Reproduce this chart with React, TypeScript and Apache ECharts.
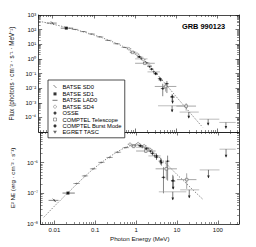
import { useEffect, useRef } from 'react';
import * as echarts from 'echarts';

const FONT = '"Liberation Sans", Arial, Helvetica, sans-serif';

// ---- axis ranges and tick labels ----
const energyRange = [0.0046, 330];
const fluxRange = [1e-5, 1e3];
const nufnuRange = [1e-8, 1e-5];
const energyTickExp = [-2, -1, 0, 1, 2];
const energyTickLabels = ['0.01', '0.1', '1', '10', '100'];
const fluxTickExp = [-4, -3, -2, -1, 0, 1, 2, 3];
const fluxTickLabels = ['10⁻⁴', '10⁻³', '10⁻²', '10⁻¹', '10⁰', '10¹', '10²', '10³'];
const nufnuTickExp = [-8, -7, -6];
const nufnuTickLabels = ['10⁻⁸', '10⁻⁷', '10⁻⁶'];
const minorSteps = [2, 3, 4, 5, 6, 7, 8, 9];

// ---- model curve ----
const modelEnergy = [0.0055, 0.01, 0.02, 0.04, 0.079, 0.158, 0.316, 0.5, 0.794, 1.0, 1.26, 1.78, 2.51, 3.98, 6.31, 10, 15.8, 25.1, 43.6];
const modelFlux = [343, 237, 150, 92, 53, 28, 13, 7.3, 3.7, 2.4, 1.5, 0.62, 0.23, 0.054, 0.0119, 0.00254, 5.7e-4, 1.24e-4, 2.07e-5];
const modelNufnu = [1.66e-8, 3.8e-8, 9.5e-8, 2.34e-7, 5.4e-7, 1.12e-6, 2.09e-6, 2.95e-6, 3.7e-6, 3.9e-6, 3.8e-6, 3.16e-6, 2.34e-6, 1.38e-6, 7.6e-7, 4.1e-7, 2.3e-7, 1.26e-7, 6.3e-8];

// ---- measurements ----
// [E, Elo, Ehi, flux, fluxLo, fluxHi, E2N, E2Nlo, E2Nhi, upperLimit]
const batseSD0 = [[0.01, 0.0072, 0.0126, 280, 255, 305, 5.9e-8, 5.4e-8, 6.4e-8, 0]];
const batseSD1 = [[0.0215, 0.0158, 0.0316, 126, 116, 136, 1.02e-7, 0.94e-7, 1.1e-7, 0]];
const batseLAD0 = [
  [0.035, 0.029, 0.042, 104, 96, 112, 2.09e-7, 1.93e-7, 2.25e-7, 0],
  [0.056, 0.047, 0.067, 73, 67, 79, 3.7e-7, 3.4e-7, 4.0e-7, 0],
  [0.089, 0.074, 0.107, 50, 46, 54, 6.3e-7, 5.8e-7, 6.8e-7, 0],
  [0.141, 0.118, 0.17, 32, 29.5, 34.5, 1.02e-6, 0.94e-6, 1.1e-6, 0],
  [0.224, 0.187, 0.27, 18.4, 17, 19.8, 1.48e-6, 1.37e-6, 1.6e-6, 0],
  [0.355, 0.296, 0.43, 10.8, 10, 11.6, 2.19e-6, 2.03e-6, 2.36e-6, 0],
  [0.562, 0.47, 0.67, 6.1, 5.6, 6.6, 3.09e-6, 2.85e-6, 3.33e-6, 0],
  [0.891, 0.74, 1.07, 2.9, 2.67, 3.13, 3.7e-6, 3.4e-6, 4.0e-6, 0],
  [1.32, 1.1, 1.58, 1.3, 1.2, 1.4, 3.6e-6, 3.3e-6, 3.9e-6, 0],
  [1.86, 1.55, 2.23, 0.54, 0.5, 0.58, 3.0e-6, 2.76e-6, 3.24e-6, 0],
];
const batseSD4 = [
  [0.708, 0.62, 0.81, 4.95, 4.5, 5.4, 3.98e-6, 3.6e-6, 4.4e-6, 0],
  [1.12, 0.98, 1.28, 2.07, 1.88, 2.28, 4.17e-6, 3.8e-6, 4.6e-6, 0],
  [1.58, 1.38, 1.82, 0.88, 0.8, 0.97, 3.55e-6, 3.2e-6, 3.9e-6, 0],
  [2.24, 1.95, 2.57, 0.327, 0.29, 0.37, 2.63e-6, 2.35e-6, 2.95e-6, 0],
];
const osse = [
  [1.26, 1.12, 1.41, 1.4, 1.25, 1.57, 3.55e-6, 3.17e-6, 3.98e-6, 0],
  [1.78, 1.58, 2.0, 0.556, 0.48, 0.64, 2.82e-6, 2.45e-6, 3.25e-6, 0],
  [2.51, 2.24, 2.82, 0.197, 0.165, 0.235, 2.0e-6, 1.68e-6, 2.38e-6, 0],
  [3.16, 2.82, 3.55, 0.0944, 0.076, 0.117, 1.51e-6, 1.22e-6, 1.87e-6, 0],
  [3.98, 3.55, 4.47, 0.0442, 0.034, 0.057, 1.12e-6, 0.87e-6, 1.45e-6, 0],
  [4.68, 4.2, 5.2, 0.0094, 0.0028, 0.02, 3.3e-7, 1.0e-7, 7.1e-7, 0],
  [7.9, 7.1, 8.9, 0.0026, 0.0014, 0.0039, 2.6e-7, 1.41e-7, 4.0e-7, 0],
];
const comptelTelescope = [
  [0.87, 0.75, 1.0, 2.79, 2.5, 3.1, 3.4e-6, 3.0e-6, 3.8e-6, 0],
  [1.73, 1.0, 3.0, 0.5, 0.44, 0.57, 2.4e-6, 2.1e-6, 2.75e-6, 0],
  [5.5, 3.0, 10, 0.013, 0.0058, 0.023, 6.3e-7, 2.8e-7, 1.12e-6, 0],
  [17.3, 10, 30, 5.9e-4, 2.9e-4, 9.3e-4, 2.8e-7, 1.4e-7, 4.5e-7, 0],
];
const comptelBurst = [
  [2.24, 2.0, 2.5, 0.3, 0.26, 0.34, 2.4e-6, 2.09e-6, 2.75e-6, 0],
  [3.16, 2.8, 3.5, 0.104, 0.086, 0.125, 1.66e-6, 1.38e-6, 2.0e-6, 0],
  [4.17, 3.7, 4.7, 0.036, 0.028, 0.045, 1.0e-6, 0.8e-6, 1.26e-6, 0],
  [5.9, 5.2, 6.6, 0.0202, 0.0046, 0.031, 1.12e-6, 2.6e-7, 1.7e-6, 0],
  [8.1, 7.2, 9.1, 0.00237, 0.00237, 0.0035, 2.5e-7, 2.5e-7, 3.6e-7, 1],
];
const egretTasc = [
  [1.41, 1.0, 2.0, 1.0, 0.92, 1.1, 3.16e-6, 2.9e-6, 3.5e-6, 0],
  [2.83, 2.0, 4.0, 0.129, 0.113, 0.148, 1.66e-6, 1.45e-6, 1.9e-6, 0],
  [7.9, 3.6, 17, 6.2e-4, 6.2e-4, 6.2e-4, 1.12e-7, 1.12e-7, 1.12e-7, 1],
  [20, 12, 35, 2.3e-4, 2.3e-4, 2.3e-4, 1.3e-7, 1.3e-7, 1.3e-7, 1],
  [59, 36, 110, 7.5e-5, 7.5e-5, 7.5e-5, 5.8e-7, 5.8e-7, 5.8e-7, 1],
  [159, 110, 275, 4.5e-5, 4.5e-5, 4.5e-5, 2.75e-6, 2.75e-6, 2.75e-6, 1],
];

// ---- styling per instrument ----
const SQUARE = 'path://M0,0H10V10H0Z';
const DASH = 'path://M0,0H10V2H0Z';
const DIAG = 'path://M0,0L10,10';
const VTRI = 'path://M0,0H10L5,8Z';
const instruments: any[] = [
  { name: 'BATSE SD0', pts: batseSD0, bar: '#444', symbol: DIAG, size: 3.5, item: { color: 'none', borderColor: '#222', borderWidth: 0.7 }, icon: DIAG },
  { name: 'BATSE SD1', pts: batseSD1, bar: '#333', symbol: 'rect', size: 3, item: { color: '#000' }, icon: SQUARE },
  { name: 'BATSE LAD0', pts: batseLAD0, bar: '#888', symbol: 'rect', size: [3.5, 0.7], item: { color: '#555' }, icon: DASH },
  { name: 'BATSE SD4', pts: batseSD4, bar: '#888', symbol: 'circle', size: 2.6, item: { color: '#fff', borderColor: '#666', borderWidth: 0.6 }, icon: 'circle' },
  { name: 'OSSE', pts: osse, bar: '#444', symbol: 'circle', size: 2, item: { color: '#111' }, icon: 'circle' },
  { name: 'COMPTEL Telescope', pts: comptelTelescope, bar: '#777', symbol: 'rect', size: 2.6, item: { color: '#fff', borderColor: '#444', borderWidth: 0.6 }, icon: SQUARE },
  { name: 'COMPTEL Burst Mode', pts: comptelBurst, bar: '#444', symbol: 'circle', size: 1.5, item: { color: '#000' }, icon: 'circle' },
  { name: 'EGRET TASC', pts: egretTasc, bar: '#999', symbol: VTRI, size: [2.6, 2], item: { color: '#444' }, icon: VTRI },
];

const LINE = '#1a1a1a';

function minorLogValues(range: number[]) {
  const out: number[] = [];
  const d0 = Math.floor(Math.log10(range[0]));
  const d1 = Math.ceil(Math.log10(range[1]));
  for (let d = d0; d <= d1; d++) {
    for (const m of minorSteps) {
      const v = m * Math.pow(10, d);
      if (v >= range[0] && v <= range[1]) out.push(Math.log10(v));
    }
  }
  return out;
}

function decadeFormatter(exps: number[], labels: string[]) {
  return (v: number) => {
    const lg = Math.log10(v);
    const r = Math.round(lg);
    if (Math.abs(lg - r) > 1e-4) return '';
    const i = exps.indexOf(r);
    return i >= 0 ? labels[i] : '';
  };
}

function majorAxis(gridIndex: number, position: string, range: number[], labels: any, extra: any = {}) {
  return {
    type: 'log',
    logBase: 10,
    gridIndex,
    position,
    min: range[0],
    max: range[1],
    axisLine: { show: true, onZero: false, lineStyle: { color: LINE, width: 0.8 } },
    axisTick: { show: true, inside: true, length: 3.5, lineStyle: { color: LINE, width: 0.6 } },
    axisLabel: labels
      ? { show: true, formatter: labels, fontSize: 6, color: '#111', fontFamily: FONT, margin: 2.5 }
      : { show: false },
    splitLine: { show: false },
    minorTick: { show: false },
    ...extra,
  };
}

function minorAxis(gridIndex: number, position: string, range: number[]) {
  return {
    type: 'value',
    gridIndex,
    position,
    min: Math.log10(range[0]),
    max: Math.log10(range[1]),
    axisLine: { show: false, onZero: false },
    axisTick: { show: true, inside: true, length: 2, customValues: minorLogValues(range), lineStyle: { color: LINE, width: 0.5 } },
    axisLabel: { show: false },
    splitLine: { show: false },
  };
}

function errorSeries(ins: any, panel: number) {
  const data = ins.pts.map((p: number[]) =>
    panel === 0 ? [p[0], p[1], p[2], p[3], p[4], p[5], p[9]] : [p[0], p[1], p[2], p[6], p[7], p[8], p[9]]
  );
  const arrowLen = panel === 0 ? 6 : 8;
  return {
    type: 'custom',
    name: ins.name + ' err' + panel,
    xAxisIndex: panel * 4,
    yAxisIndex: panel * 4,
    silent: true,
    z: 2,
    encode: { x: 0, y: 3 },
    data,
    renderItem: (_params: any, api: any) => {
      const e = api.value(0), elo = api.value(1), ehi = api.value(2);
      const v = api.value(3), vlo = api.value(4), vhi = api.value(5), ul = api.value(6);
      const c = api.coord([e, v]);
      const l = api.coord([elo, v]);
      const r = api.coord([ehi, v]);
      const lo = api.coord([e, vlo]);
      const hi = api.coord([e, vhi]);
      const st = { stroke: ins.bar, lineWidth: 0.65 };
      const children: any[] = [
        { type: 'line', shape: { x1: l[0], y1: l[1], x2: r[0], y2: r[1] }, style: st },
      ];
      if (Math.abs(hi[1] - lo[1]) > 0.6) {
        children.push({ type: 'line', shape: { x1: c[0], y1: lo[1], x2: c[0], y2: hi[1] }, style: st });
      }
      if (ul) {
        children.push({ type: 'line', shape: { x1: c[0], y1: c[1], x2: c[0], y2: c[1] + arrowLen }, style: { stroke: '#222', lineWidth: 0.6 } });
        children.push({
          type: 'polygon',
          shape: { points: [[c[0] - 1.3, c[1] + arrowLen - 2.4], [c[0] + 1.3, c[1] + arrowLen - 2.4], [c[0], c[1] + arrowLen + 0.4]] },
          style: { fill: '#222' },
        });
      }
      return { type: 'group', children };
    },
  };
}

function markerSeries(ins: any, panel: number) {
  return {
    type: 'scatter',
    name: ins.name,
    xAxisIndex: panel * 4,
    yAxisIndex: panel * 4,
    silent: true,
    z: 3,
    symbol: ins.symbol,
    symbolSize: ins.size,
    itemStyle: ins.item,
    data: ins.pts.filter((p: number[]) => !p[9]).map((p: number[]) => [p[0], panel === 0 ? p[3] : p[6]]),
  };
}

function modelSeries(panel: number) {
  const ys = panel === 0 ? modelFlux : modelNufnu;
  return {
    type: 'line',
    name: 'model' + panel,
    xAxisIndex: panel * 4,
    yAxisIndex: panel * 4,
    silent: true,
    z: 1,
    symbol: 'none',
    showSymbol: false,
    smooth: 0.3,
    lineStyle: { color: '#555', width: 0.7, type: [1.4, 1.4] },
    data: modelEnergy.map((e, i) => [e, ys[i]]),
  };
}

function buildOption() {
  const xAxis: any[] = [];
  const yAxis: any[] = [];
  // grid 0 (flux)
  xAxis.push(majorAxis(0, 'bottom', energyRange, null));
  xAxis.push(majorAxis(0, 'top', energyRange, null));
  xAxis.push(minorAxis(0, 'bottom', energyRange));
  xAxis.push(minorAxis(0, 'top', energyRange));
  yAxis.push(
    majorAxis(0, 'left', fluxRange, decadeFormatter(fluxTickExp, fluxTickLabels), {
      name: 'Flux (photons · cm⁻² · s⁻¹ · MeV⁻¹)',
      nameLocation: 'middle',
      nameGap: 20,
      nameTextStyle: { fontSize: 6.3, color: '#111', fontFamily: FONT },
    })
  );
  yAxis.push(majorAxis(0, 'right', fluxRange, null));
  yAxis.push(minorAxis(0, 'left', fluxRange));
  yAxis.push(minorAxis(0, 'right', fluxRange));
  // grid 1 (E^2 N)
  xAxis.push(
    majorAxis(1, 'bottom', energyRange, decadeFormatter(energyTickExp, energyTickLabels), {
      name: 'Photon Energy (MeV)',
      nameLocation: 'middle',
      nameGap: 11,
      nameTextStyle: { fontSize: 6.2, color: '#111', fontFamily: FONT },
    })
  );
  xAxis.push(majorAxis(1, 'top', energyRange, null));
  xAxis.push(minorAxis(1, 'bottom', energyRange));
  xAxis.push(minorAxis(1, 'top', energyRange));
  yAxis.push(
    majorAxis(1, 'left', nufnuRange, decadeFormatter(nufnuTickExp, nufnuTickLabels), {
      name: 'E² N{s|E} (erg · cm⁻² · s⁻¹)',
      nameLocation: 'middle',
      nameGap: 16,
      nameTextStyle: {
        fontSize: 6.2,
        lineHeight: 8,
        color: '#111',
        fontFamily: FONT,
        rich: { s: { fontSize: 4.6, lineHeight: 5, verticalAlign: 'bottom', fontFamily: FONT, color: '#111' } },
      },
    })
  );
  yAxis.push(majorAxis(1, 'right', nufnuRange, null));
  yAxis.push(minorAxis(1, 'left', nufnuRange));
  yAxis.push(minorAxis(1, 'right', nufnuRange));

  const series: any[] = [modelSeries(0), modelSeries(1)];
  for (const ins of instruments) {
    for (const panel of [0, 1]) {
      series.push(errorSeries(ins, panel));
      series.push(markerSeries(ins, panel));
    }
  }

  return {
    animation: false,
    backgroundColor: '#fff',
    textStyle: { fontFamily: FONT },
    title: {
      text: 'GRB 990123',
      left: 182,
      top: 23,
      padding: 0,
      textStyle: { fontSize: 7.4, fontWeight: 'bold', color: '#000', fontFamily: FONT },
    },
    legend: {
      show: true,
      orient: 'vertical',
      left: 48,
      top: 80,
      padding: [2.5, 3, 2.5, 3],
      itemGap: 0.4,
      itemWidth: 5,
      itemHeight: 3,
      borderColor: '#222',
      borderWidth: 0.8,
      backgroundColor: '#fff',
      selectedMode: false,
      textStyle: { fontSize: 5.8, lineHeight: 5, color: '#000', fontFamily: FONT },
      data: instruments.map((ins) => ({
        name: ins.name,
        icon: ins.icon,
        itemStyle: {
          color: ins.item.color,
          borderColor: ins.item.borderColor || ins.item.color,
          borderWidth: ins.item.borderWidth || 0,
        },
      })),
    },
    grid: [
      { left: 35, top: 15, width: 204, height: 117 },
      { left: 35, top: 132, width: 204, height: 92 },
    ],
    xAxis,
    yAxis,
    series,
  };
}

export default function App() {
  const ref = useRef<HTMLDivElement>(null);
  useEffect(() => {
    if (!ref.current) return;
    const chart = echarts.init(ref.current, null, { renderer: 'svg' });
    chart.setOption(buildOption() as any);
    return () => chart.dispose();
  }, []);
  return <div ref={ref} style={{ position: 'fixed', left: 0, top: 0, width: 256, height: 247 }} />;
}
